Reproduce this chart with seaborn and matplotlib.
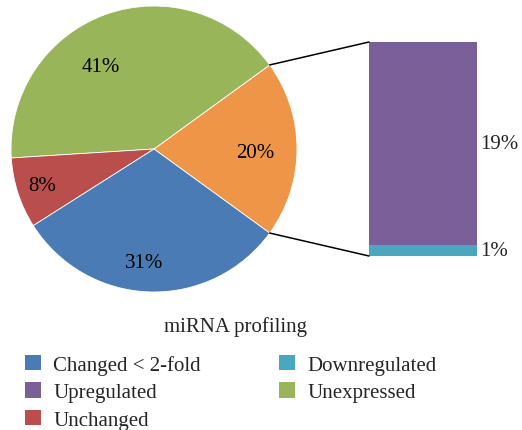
import matplotlib
matplotlib.use("Agg")
import numpy as np
import pandas as pd
import seaborn as sns
import matplotlib.pyplot as plt
from matplotlib.patches import Patch, ConnectionPatch

# pie data (counter-clockwise from the orange slice)
pie_labels = ['Changed > 2-fold', 'Unexpressed', 'Unchanged', 'Changed < 2-fold']
pie_values = [20, 41, 8, 31]
pie_colors = ['#EE9548', '#99B55A', '#B94E4C', '#4B7BB4']

# breakdown of the orange slice
bar_labels = ['Downregulated', 'Upregulated']
bar_values = [1, 19]
bar_colors = ['#4BA6BF', '#7A5F98']

legend_labels = ['Changed < 2-fold', 'Upregulated', 'Unchanged', 'Downregulated', 'Unexpressed']
legend_colors = ['#4B7BB4', '#7A5F98', '#B94E4C', '#4BA6BF', '#99B55A']

sns.set_style("white")
plt.rcParams['font.family'] = ['Liberation Serif', 'DejaVu Serif']
FS = 15

W, H = 522, 431
fig = plt.figure(figsize=(W / 100, H / 100), dpi=100)

# pie
cx, cy, r = 154, 150, 143
ax_pie = fig.add_axes([(cx - r) / W, (H - cy - r) / H, 2 * r / W, 2 * r / H])
start = -pie_values[0] / 100 * 360 / 2
wedges, _, autotexts = ax_pie.pie(pie_values, colors=pie_colors, startangle=start,
                                  counterclock=True, autopct='%d%%', pctdistance=0.75,
                                  wedgeprops=dict(linewidth=0.6, edgecolor='white'),
                                  textprops=dict(fontsize=FS, color='black'))
# label placement similar to the spreadsheet layout
lab_dist = [0.71, 0.69, 0.82, 0.80]
lab_shift = [-2, 13, 0, -3]
for w, t, d, s in zip(wedges, autotexts, lab_dist, lab_shift):
    a = np.deg2rad((w.theta1 + w.theta2) / 2 + s)
    t.set_position((d * np.cos(a), d * np.sin(a)))
ax_pie.set_xlim(-1, 1)
ax_pie.set_ylim(-1, 1)
ax_pie.set_aspect('equal')

# stacked bar
bx0, bx1, by0, by1 = 369, 477, 43, 257
ax_bar = fig.add_axes([bx0 / W, (H - by1) / H, (bx1 - bx0) / W, (by1 - by0) / H])
bottom = 0
for val, col in zip(bar_values, bar_colors):
    sns.barplot(x=['Changed'], y=[val], color=col, width=1.0, bottom=bottom,
                saturation=1, ax=ax_bar, linewidth=0)
    ax_bar.text(0.53, bottom + val / 2, f'{val}%', fontsize=FS, va='center',
                ha='left', clip_on=False)
    bottom += val
ax_bar.set_xlim(-0.5, 0.5)
ax_bar.set_ylim(0, sum(bar_values))
ax_bar.axis('off')

# connector lines
t1 = np.deg2rad(wedges[0].theta1)
t2 = np.deg2rad(wedges[0].theta2)
for theta, yb in [(t2, sum(bar_values)), (t1, 0)]:
    con = ConnectionPatch(xyA=(np.cos(theta), np.sin(theta)), coordsA=ax_pie.transData,
                          xyB=(-0.5, yb), coordsB=ax_bar.transData,
                          color='black', linewidth=1.1)
    fig.add_artist(con)

# legend
fig.text(235 / W, 1 - 327 / H, 'miRNA profiling', fontsize=FS, ha='center', va='center')
handles = [Patch(facecolor=c, edgecolor='none') for c in legend_colors]
leg = fig.legend(handles, legend_labels, ncol=2,
                 loc='upper left', bbox_to_anchor=(25 / W, 1 - 356 / H),
                 frameon=False, fontsize=FS, borderpad=0, borderaxespad=0,
                 handlelength=0.75, handleheight=0.75, handletextpad=0.6,
                 columnspacing=3.75, labelspacing=0.36)

fig.savefig('out.png', dpi=100)
